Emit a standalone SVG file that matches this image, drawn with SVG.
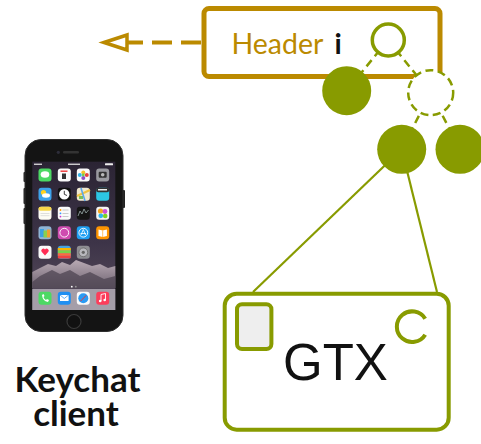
<svg xmlns="http://www.w3.org/2000/svg" width="481" height="444" viewBox="0 0 481 444">
  <defs>
    <style>
      .dash-edge { fill: none; stroke: #889B00; stroke-width: 2.5; stroke-dasharray: 8 5; }
      .solid-edge { fill: none; stroke: #889B00; stroke-width: 2.2; }
      .leaf { fill: #889B00; }
      .icon { stroke: none; }
      .label { font-family: Lato, "Liberation Sans", sans-serif; }
    </style>
    <linearGradient id="wallpaper" x1="0" y1="0" x2="0" y2="1">
      <stop offset="0" stop-color="#2b2434"/>
      <stop offset="0.55" stop-color="#3d3448"/>
      <stop offset="1" stop-color="#5a4f5e"/>
    </linearGradient>
    <linearGradient id="mountain" x1="0" y1="0" x2="0" y2="1">
      <stop offset="0" stop-color="#b9aab4"/>
      <stop offset="1" stop-color="#6d6270"/>
    </linearGradient>
  </defs>

  <!-- header box -->
  <g id="header">
    <rect x="204" y="8.5" width="236" height="68" rx="5" fill="#fff" stroke="#BB8A00" stroke-width="5"/>
    <text class="label" x="231.5" y="54" font-size="28.5" fill="#BB8A00">Header</text>
    <text class="label" x="334.5" y="54" font-size="28.5" font-weight="bold" fill="#111">i</text>
  </g>

  <!-- connectors -->
  <g id="connectors">
    <!-- dashed outgoing arrow from the header -->
    <line x1="201" y1="42.5" x2="127" y2="42.5" stroke="#BB8A00" stroke-width="4" stroke-dasharray="20 9"/>
    <polygon points="104,42.5 127,35 127,50" fill="#fff" stroke="#BB8A00" stroke-width="3.5" stroke-linejoin="miter"/>
    <!-- tree edges -->
    <line class="dash-edge" x1="388" y1="40" x2="346.7" y2="90.7"/>
    <line class="dash-edge" x1="388" y1="40" x2="430.7" y2="92.7"/>
    <line class="dash-edge" x1="430.7" y1="92.7" x2="401.7" y2="149.3"/>
    <line class="dash-edge" x1="430.7" y1="92.7" x2="460" y2="149.3"/>
    <!-- links from the tree into GTX -->
    <line class="solid-edge" x1="401.7" y1="149.3" x2="253" y2="292"/>
    <line class="solid-edge" x1="401.7" y1="149.3" x2="437" y2="292"/>
  </g>

  <!-- tree nodes -->
  <g id="node-root">
    <circle cx="388.3" cy="40" r="16" fill="#fff" stroke="#889B00" stroke-width="3.5"/>
  </g>
  <g id="node-left">
    <circle class="leaf" cx="346.7" cy="90.7" r="24.5"/>
  </g>
  <g id="node-empty">
    <circle cx="430.7" cy="92.7" r="22.5" fill="#fff" stroke="#889B00" stroke-width="2.5" stroke-dasharray="8 4.5"/>
  </g>
  <g id="node-leaf-a">
    <circle class="leaf" cx="401.7" cy="149.3" r="24.5"/>
  </g>
  <g id="node-leaf-b">
    <circle class="leaf" cx="460" cy="149.3" r="24.5"/>
  </g>

  <!-- GTX card -->
  <g id="gtx">
    <rect x="224.7" y="293.7" width="224" height="136" rx="12" fill="#fff" stroke="#889B00" stroke-width="4"/>
    <rect x="237" y="304.2" width="34.4" height="44.8" rx="5" fill="#eeeeee" stroke="#889B00" stroke-width="4"/>
    <path d="M 425.2 318.7 A 15.3 15.3 0 1 0 425.2 334.7" fill="none" stroke="#889B00" stroke-width="4"/>
    <text x="283" y="380" font-family="'Liberation Sans', Arial, sans-serif" font-size="51" fill="#111">GTX</text>
  </g>

  <!-- handset -->
  <g id="phone">
    <rect x="23.5" y="172" width="2.5" height="10" rx="1" fill="#222"/>
    <rect x="23.5" y="188" width="2.5" height="16" rx="1" fill="#222"/>
    <rect x="23.5" y="208" width="2.5" height="16" rx="1" fill="#222"/>
    <rect x="122.5" y="190" width="2.5" height="18" rx="1" fill="#222"/>
    <rect x="25" y="139.5" width="98" height="192" rx="16" fill="#141414" stroke="#2e2e2e" stroke-width="1"/>
    <rect x="63" y="151" width="16" height="2.6" rx="1.3" fill="#333"/>
    <circle cx="58.3" cy="152.3" r="1.6" fill="#2d2d3a"/>
    <circle cx="74" cy="321.5" r="7" fill="#111" stroke="#3a3a3a" stroke-width="1.2"/>

    <!-- screen -->
    <rect x="32.3" y="161.7" width="83" height="148.3" fill="url(#wallpaper)"/>
    <path d="M 32.3 272 L 40 268 L 48 264 L 56 266 L 62 262 L 70 265 L 76 260 L 84 263 L 92 266 L 100 264 L 108 268 L 115.3 266 L 115.3 288 L 32.3 288 Z" fill="url(#mountain)"/>
    <path d="M 40 276 L 52 270 L 60 274 L 70 270 L 80 276 L 90 272 L 104 279 L 115.3 276 L 115.3 288 L 32.3 288 L 32.3 282 Z" fill="#4e4452" opacity="0.75"/>
    <!-- status bar -->
    <rect x="34" y="163.6" width="8" height="1.3" fill="#ddd"/>
    <rect x="68" y="163.6" width="12" height="1.3" fill="#ddd"/>
    <rect x="105" y="163.3" width="8" height="2" rx="0.5" fill="#eee"/>

    <!-- row 1 -->
    <rect class="icon" x="38.5" y="168.5" width="13" height="13" rx="3" fill="#4cd964"/>
    <ellipse cx="45" cy="174.5" rx="4.3" ry="3.3" fill="#fff"/>
    <rect class="icon" x="57.8" y="168.5" width="13" height="13" rx="3" fill="#fafafa"/>
    <rect x="60.5" y="170.5" width="7" height="1.4" fill="#e33"/>
    <rect x="62" y="173.5" width="4" height="5.5" fill="#333"/>
    <rect class="icon" x="76.8" y="168.5" width="13" height="13" rx="3" fill="#fafafa"/>
    <circle cx="83.3" cy="172.5" r="2" fill="#f6c12b"/>
    <circle cx="86.8" cy="175" r="2" fill="#e8433f"/>
    <circle cx="83.3" cy="178" r="2" fill="#8e4fc7"/>
    <circle cx="79.8" cy="175" r="2" fill="#36b3ea"/>
    <circle cx="83.3" cy="175" r="1.4" fill="#6fcf4c"/>
    <rect class="icon" x="96.2" y="168.5" width="13" height="13" rx="3" fill="#9a9aa0"/>
    <rect x="98.7" y="171.8" width="8" height="6" rx="1" fill="#333"/>
    <circle cx="102.7" cy="174.8" r="1.8" fill="#bbb"/>

    <!-- row 2 -->
    <rect class="icon" x="38.5" y="187.8" width="13" height="13" rx="3" fill="#3ea3ea"/>
    <circle cx="43.5" cy="192.5" r="2.6" fill="#ffd21f"/>
    <ellipse cx="46" cy="195.5" rx="4" ry="2.2" fill="#fff"/>
    <rect class="icon" x="57.8" y="187.8" width="13" height="13" rx="3" fill="#111"/>
    <circle cx="64.3" cy="194.3" r="5.2" fill="#fff"/>
    <path d="M64.3 194.3 L64.3 190.8 M64.3 194.3 L67 195.5" stroke="#111" stroke-width="0.8"/>
    <rect class="icon" x="76.8" y="187.8" width="13" height="13" rx="3" fill="#efe8cf"/>
    <path d="M77 196 L90 190" stroke="#f0c341" stroke-width="2"/>
    <path d="M81 188 L85 201" stroke="#5ba7e8" stroke-width="1.6"/>
    <rect x="79" y="196" width="4" height="3" fill="#7ac05a"/>
    <rect class="icon" x="96.2" y="187.8" width="13" height="13" rx="3" fill="#2cc6e4"/>
    <rect x="96.2" y="187.8" width="13" height="4.5" rx="2" fill="#333"/>
    <rect x="98" y="189" width="9" height="1.5" fill="#eee"/>

    <!-- row 3 -->
    <rect class="icon" x="38.5" y="206.8" width="13" height="13" rx="3" fill="#fdfcf4"/>
    <rect x="38.5" y="206.8" width="13" height="4" rx="2" fill="#f7d74a"/>
    <rect x="40.5" y="213" width="9" height="0.6" fill="#ccc"/>
    <rect x="40.5" y="215.5" width="9" height="0.6" fill="#ccc"/>
    <rect class="icon" x="57.8" y="206.8" width="13" height="13" rx="3" fill="#fafafa"/>
    <circle cx="60.5" cy="210" r="0.9" fill="#f90"/>
    <circle cx="60.5" cy="213.3" r="0.9" fill="#39f"/>
    <circle cx="60.5" cy="216.6" r="0.9" fill="#c3c"/>
    <rect x="62.5" y="209.7" width="6" height="0.6" fill="#aaa"/>
    <rect x="62.5" y="213" width="6" height="0.6" fill="#aaa"/>
    <rect x="62.5" y="216.3" width="6" height="0.6" fill="#aaa"/>
    <rect class="icon" x="76.8" y="206.8" width="13" height="13" rx="3" fill="#151515"/>
    <path d="M78 216 L80 211 L82 214 L84 209 L86 213 L88.5 210" fill="none" stroke="#9aa" stroke-width="0.8"/>
    <rect class="icon" x="96.2" y="206.8" width="13" height="13" rx="3" fill="#f4f4f4"/>
    <circle cx="100.5" cy="211" r="2.6" fill="#f5a623"/>
    <circle cx="105" cy="211.5" r="2.4" fill="#d34fd6"/>
    <circle cx="100.8" cy="215.8" r="2.4" fill="#2fb7f0"/>
    <circle cx="105.2" cy="216" r="2.3" fill="#7ed321"/>

    <!-- row 4 -->
    <rect class="icon" x="38.5" y="226.2" width="13" height="13" rx="3" fill="#8fb3d4"/>
    <rect x="40" y="229" width="4" height="8" fill="#3da1e3"/>
    <rect x="43.5" y="230.5" width="4" height="7" fill="#8bd04d"/>
    <rect x="47" y="229.5" width="3.3" height="8" fill="#f0a030"/>
    <rect class="icon" x="57.8" y="226.2" width="13" height="13" rx="3" fill="#cf4cb0"/>
    <circle cx="64.3" cy="232.7" r="4.4" fill="none" stroke="#fff" stroke-width="0.9"/>
    <rect class="icon" x="76.8" y="226.2" width="13" height="13" rx="3" fill="#1e9ff2"/>
    <circle cx="83.3" cy="232.7" r="4.4" fill="none" stroke="#fff" stroke-width="0.9"/>
    <path d="M81 235 L83.3 229.5 L85.6 235 M80.5 233.5 L86 233.5" fill="none" stroke="#fff" stroke-width="0.8"/>
    <rect class="icon" x="96.2" y="226.2" width="13" height="13" rx="3" fill="#ff9500"/>
    <path d="M98.5 229.5 L102.7 230.5 L106.9 229.5 L106.9 236 L102.7 237 L98.5 236 Z" fill="#fff"/>
    <path d="M102.7 230.5 L102.7 237" stroke="#ff9500" stroke-width="0.6"/>

    <!-- row 5 -->
    <rect class="icon" x="38.5" y="245.8" width="13" height="13" rx="3" fill="#fafafa"/>
    <path d="M45 255.5 L41.6 251.8 A1.9 1.9 0 0 1 45 249.6 A1.9 1.9 0 0 1 48.4 251.8 Z" fill="#ff2d55"/>
    <rect class="icon" x="57.8" y="245.8" width="13" height="13" rx="3" fill="#45a2e0"/>
    <rect x="57.8" y="248" width="13" height="2.6" fill="#f7b500"/>
    <rect x="57.8" y="250.6" width="13" height="2.6" fill="#7ad14b"/>
    <rect x="57.8" y="253.2" width="13" height="2.6" fill="#ff6b3b"/>
    <rect x="57.8" y="255.8" width="13" height="2.8" rx="1" fill="#e44"/>
    <rect class="icon" x="76.8" y="245.8" width="13" height="13" rx="3" fill="#8e8e93"/>
    <circle cx="83.3" cy="252.3" r="4.4" fill="#b8b8bd" stroke="#666" stroke-width="0.8"/>
    <circle cx="83.3" cy="252.3" r="1.6" fill="#666"/>

    <!-- page dots -->
    <circle cx="71.8" cy="286.7" r="0.9" fill="#fff"/>
    <circle cx="75.8" cy="286.7" r="0.9" fill="#999"/>

    <!-- dock -->
    <rect x="32.3" y="289" width="83" height="21" fill="#b3adb6" opacity="0.85"/>
    <rect class="icon" x="38.5" y="291.8" width="13" height="13" rx="3" fill="#4cd964"/>
    <path d="M42 295 Q42.5 301 48 302 L49 300 L47 299 L46 300 Q44 299 43.5 297 L44.5 296 L43.5 294 Z" fill="#fff"/>
    <rect class="icon" x="57.8" y="291.8" width="13" height="13" rx="3" fill="#1f8ff2"/>
    <rect x="60" y="295" width="8.6" height="6" fill="#fff"/>
    <path d="M60 295 L64.3 298.5 L68.6 295" fill="none" stroke="#1f8ff2" stroke-width="0.7"/>
    <rect class="icon" x="76.8" y="291.8" width="13" height="13" rx="3" fill="#fafafa"/>
    <circle cx="83.3" cy="298.3" r="5" fill="#2b9af3"/>
    <path d="M80.5 301.2 L84.3 297.3 L86.1 295.4 L82.3 299.3 Z" fill="#fff" stroke="#e33" stroke-width="0.6"/>
    <rect class="icon" x="96.2" y="291.8" width="13" height="13" rx="3" fill="#fc3d5b"/>
    <path d="M101 301 L101 294.5 L105.5 293.5 L105.5 300" fill="none" stroke="#fff" stroke-width="0.9"/>
    <circle cx="100.2" cy="301" r="1.3" fill="#fff"/>
    <circle cx="104.7" cy="300" r="1.3" fill="#fff"/>
  </g>

  <!-- caption -->
  <g id="client-label">
    <text class="label" x="77.5" y="391.5" font-size="35" font-weight="bold" fill="#111" text-anchor="middle">Keychat</text>
    <text class="label" x="76" y="425.5" font-size="35" font-weight="bold" fill="#111" text-anchor="middle">client</text>
  </g>
</svg>
